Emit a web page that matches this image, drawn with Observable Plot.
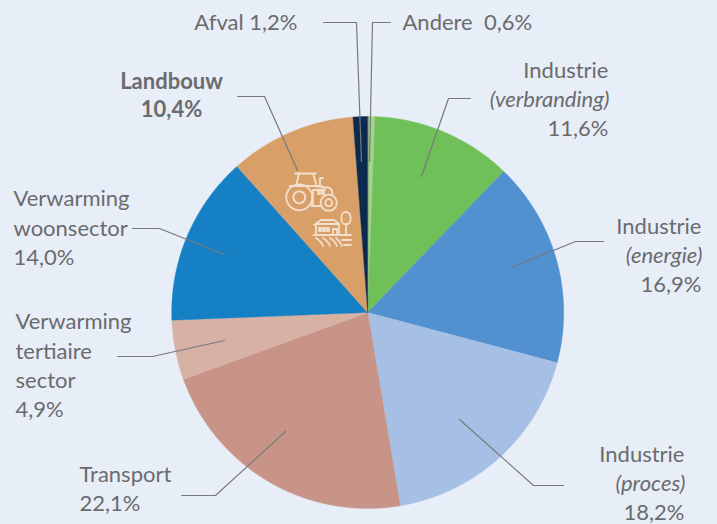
<!DOCTYPE html>
<html><head><meta charset="utf-8">
<script src="https://cdn.jsdelivr.net/npm/d3@7"></script>
<script src="https://cdn.jsdelivr.net/npm/@observablehq/plot@0.6"></script>
<style>html,body{margin:0;padding:0;background:#e8eef8;overflow:hidden}svg{display:block}</style>
</head><body><div id="chart"></div>
<script>
const names = ["Andere","Industrie (verbranding)","Industrie (energie)","Industrie (proces)","Transport","Verwarming tertiaire sector","Verwarming woonsector","Landbouw","Afval"];
const values = [0.6,11.6,16.9,18.2,22.1,4.9,14.0,10.4,1.2];
const colors = ["#a5d38c","#70c05a","#5291d0","#a5c0e4","#c89488","#d8b1a5","#1580c4","#d99f69","#0a2b4e"];
const center = {x:367.2,y:312}, radius = 196;

const arcs = d3.pie().sort(null).value(d=>d)(values);
const slices = arcs.flatMap((a,i)=>{
  const n = Math.max(3,Math.ceil((a.endAngle-a.startAngle)*90));
  const pts=[{name:names[i],x:center.x,y:center.y}];
  for(let k=0;k<=n;k++){
    const t=a.startAngle+(a.endAngle-a.startAngle)*k/n;
    pts.push({name:names[i],x:center.x+radius*Math.sin(t),y:center.y-radius*Math.cos(t)});
  }
  return pts;
});

const leaders = [
 [[323,22],[356,22],[361,161]],
 [[390,22],[372,22],[369,161]],
 [[237,96],[264,96],[297,170]],
 [[470,98],[448,98],[421,176]],
 [[603,241],[575,241],[511,267]],
 [[563,485],[533,485],[459,419]],
 [[181,495],[215,495],[285,431]],
 [[117,356],[152,356],[224,340]],
 [[132,228],[159,228],[224,254]]
].flatMap((l,i)=>l.map(p=>({id:i,x:p[0],y:p[1]})));

const labels = [
 {t:"Afval 1,2%",x:297,y:22,a:"end"},
 {t:"Andere  0,6%",x:402,y:22,a:"start"},
 {t:"Landbouw",x:171,y:81,a:"middle",w:"bold"},
 {t:"10,4%",x:171,y:109,a:"middle",w:"bold"},
 {t:"Industrie",x:608,y:70,a:"end"},
 {t:"(verbranding)",x:609,y:99,a:"end",s:"italic"},
 {t:"11,6%",x:608,y:128,a:"end"},
 {t:"Industrie",x:701,y:226,a:"end"},
 {t:"(energie)",x:702,y:255,a:"end",s:"italic"},
 {t:"16,9%",x:701,y:284,a:"end"},
 {t:"Industrie",x:684,y:454,a:"end"},
 {t:"(proces)",x:685,y:483,a:"end",s:"italic"},
 {t:"18,2%",x:684,y:512,a:"end"},
 {t:"Transport",x:79,y:474,a:"start"},
 {t:"22,1%",x:79,y:503,a:"start"},
 {t:"Verwarming",x:15,y:321,a:"start"},
 {t:"tertiaire",x:15,y:351,a:"start"},
 {t:"sector",x:15,y:380,a:"start"},
 {t:"4,9%",x:15,y:409,a:"start"},
 {t:"Verwarming",x:13,y:198,a:"start"},
 {t:"woonsector",x:13,y:228,a:"start"},
 {t:"14,0%",x:13,y:257,a:"start"}
];
const textMark = (rows,anchor,weight,style)=>Plot.text(rows,{x:"x",y:"y",text:"t",textAnchor:anchor,fontWeight:weight,fontStyle:style,fill:"#6a6b6d",lineAnchor:"middle"});
const groups = d3.groups(labels,d=>d.a+"|"+(d.w||"normal")+"|"+(d.s||"normal"));

function icons(index,{x,y}){
  const g=d3.create("svg:g").attr("fill","none").attr("stroke","#f2dfcc").attr("stroke-width",1.8).attr("stroke-linejoin","round").attr("stroke-linecap","round");
  g.append("path").attr("transform",`translate(${x(0)},${y(0)})`).attr("d",[
    "M295 173.5H316M299 173.5L296 186M313 173.5L317 187M289.5 186H322",
    "M320 187V178.5M320 178H323M322 187.5H328Q332 188 332.5 194M313 204V190H325",
    "M318 191h2v3h-2zM322 191h2v3h-2z",
    "M312 196V206H320",
    "M299.3 184.3a13 13 0 1 0 .01 0M299.3 191.3a6 6 0 1 0 .01 0",
    "M328.7 194.7a8 8 0 1 0 .01 0M328.7 199.2a3.5 3.5 0 1 0 .01 0",
    "M316 235V224H339V235M314 225L321 220H334L339 224",
    "M319 228h2v3h-2zM323 228h2v3h-2zM327 228h2v3h-2zM333 235V229h4v6",
    "M313.5 235H351M346 235V224M346 212a4.5 4.5 0 0 1 4.5 4.5V220a4.5 4.5 0 0 1-9 0V216.5a4.5 4.5 0 0 1 4.5-4.5z",
    "M316 238Q321 241 323 246M323 238Q328 241 330 246M330 238Q335 241 337 246M336 238Q340 241 342 246M342 240H351M344 245H351"
  ].join(""));
  return g.node();
}

const chart = Plot.plot({
  width:717,height:524,margin:0,
  style:{background:"#e8eef8",fontFamily:"Lato, sans-serif",fontSize:"22px"},
  x:{domain:[0,717],range:[0,717],axis:null},
  y:{domain:[0,524],range:[0,524],axis:null},
  marks:[
    Plot.line(slices,{x:"x",y:"y",z:"name",fill:"name",stroke:"name",strokeWidth:0.4,curve:"linear-closed"}),
    icons,
    Plot.line(leaders,{x:"x",y:"y",z:"id",stroke:"#77797c",strokeWidth:1.2}),
    ...groups.map(([k,rows])=>{const [a,w,s]=k.split("|");return textMark(rows,a,w,s);})
  ],
  color:{domain:names,range:colors}
});
document.getElementById("chart").append(chart);
</script></body></html>
